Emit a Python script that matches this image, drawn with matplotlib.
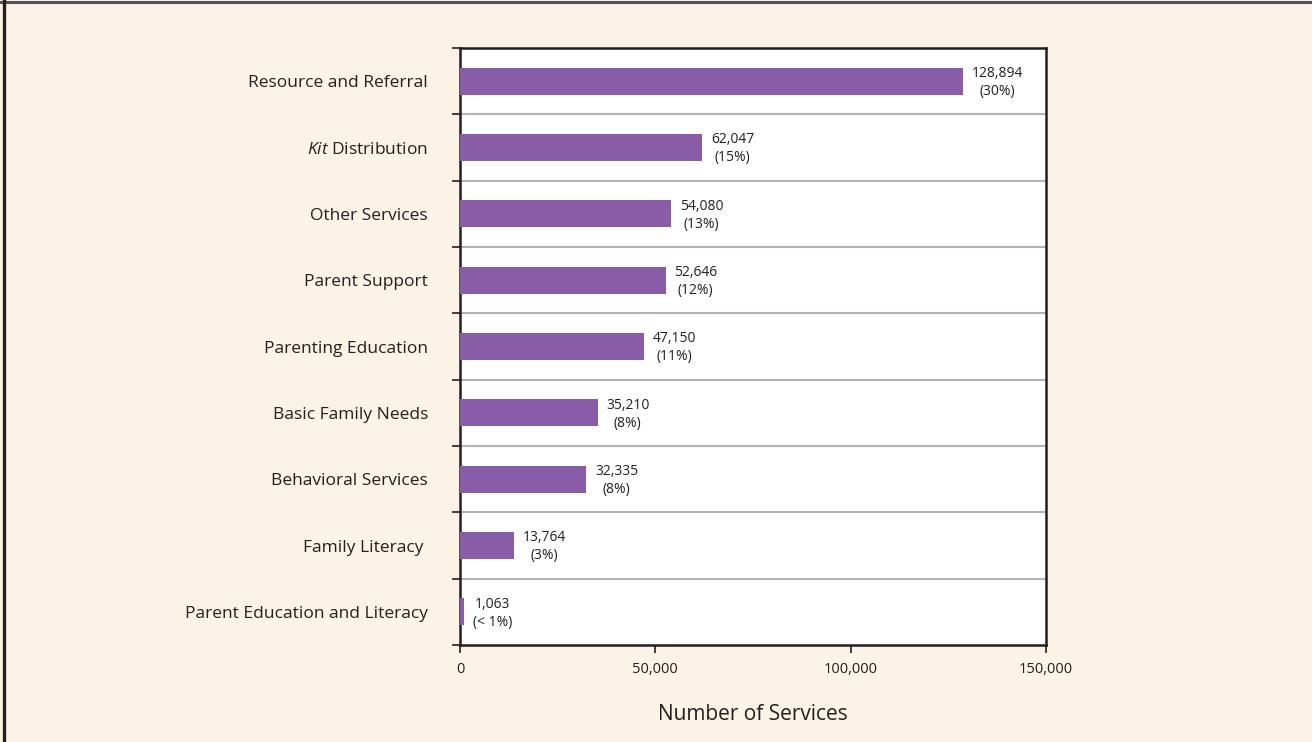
import numpy as np
import matplotlib.pyplot as plt
from matplotlib.lines import Line2D

plt.rcParams['font.family'] = ['Open Sans', 'DejaVu Sans']
plt.rcParams['mathtext.fontset'] = 'custom'
plt.rcParams['mathtext.rm'] = 'Open Sans'
plt.rcParams['mathtext.it'] = 'Open Sans:italic'

# services, top to bottom
categories = ['Resource and Referral', r'$\mathit{Kit}$ Distribution', 'Other Services',
              'Parent Support', 'Parenting Education', 'Basic Family Needs',
              'Behavioral Services', 'Family Literacy ', 'Parent Education and Literacy']
counts = [128894, 62047, 54080, 52646, 47150, 35210, 32335, 13764, 1063]
shares = ['30%', '15%', '13%', '12%', '11%', '8%', '8%', '3%', '< 1%']
xticks = [0, 50000, 100000, 150000]

bg = '#fbf3e6'
purple = '#885ca6'

fig = plt.figure(figsize=(13.12, 7.42), dpi=100, facecolor=bg)
ax = fig.add_axes([0.3506, 0.1307, 0.4466, 0.8046])
ax.set_facecolor('white')

n = len(categories)
y = np.arange(n)
ax.barh(y, counts, height=0.41, color=purple, zorder=3)

for yi, c, s in zip(y, counts, shares):
    ax.text(c + 2200, yi + 0.02, f'{c:,}\n({s})', ha='left', va='center',
            multialignment='center', fontsize=10, color='#231f20', linespacing=1.25)

ax.set_xlim(0, 150000)
ax.set_ylim(n - 0.5, -0.5)
ax.set_xticks(xticks)
ax.set_xticklabels([f'{v:,}' for v in xticks], fontsize=10.5, color='#231f20')

# row boundaries: outward ticks and grey separators
bounds = np.arange(-0.5, n, 1.0)
ax.set_yticks(bounds)
ax.set_yticklabels([])
ax.set_yticks(y, minor=True)
ax.set_yticklabels(categories, minor=True, fontsize=12.5, color='#231f20')
ax.tick_params(axis='y', which='minor', length=0, pad=23)
ax.tick_params(axis='y', which='major', length=6, width=1.2, color='#231f20')
ax.tick_params(axis='x', length=6, width=1.2, color='#231f20', pad=6)
for b in bounds[1:-1]:
    ax.axhline(b, color='#b3b3b3', linewidth=1.5, zorder=2)

for side in ['left', 'right', 'top', 'bottom']:
    ax.spines[side].set_color('#231f20')
    ax.spines[side].set_linewidth(1.8)

ax.set_xlabel('Number of Services', fontsize=15, color='#231f20', labelpad=20)

# outer frame
fig.add_artist(Line2D([0, 1], [0.9973, 0.9973], transform=fig.transFigure,
                      color='#555555', linewidth=2.2))
fig.add_artist(Line2D([0.0031, 0.0031], [0, 1], transform=fig.transFigure,
                      color='#231f20', linewidth=2.4))

fig.savefig('out.png', dpi=100, facecolor=bg)
